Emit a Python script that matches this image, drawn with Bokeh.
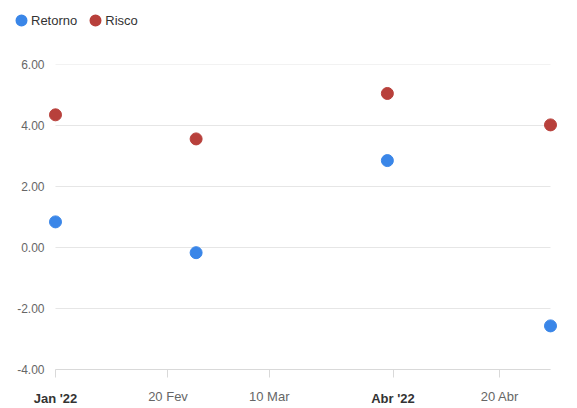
import pandas as pd
from bokeh.plotting import figure
from bokeh.layouts import column
from bokeh.models import (FixedTicker, NumeralTickFormatter, Legend, LegendItem,
                          Range1d, DatetimeAxis)
from bokeh.embed import file_html
from bokeh.resources import INLINE

# ---- data ----
dates = ["2022-01-31", "2022-02-25", "2022-03-31", "2022-04-29"]
retorno = [0.84, -0.17, 2.85, -2.57]
risco = [4.35, 3.56, 5.05, 4.02]
series_names = ["Retorno", "Risco"]
series_colors = ["#3a86e8", "#b8403b"]

x_tick_dates = ["2022-01-31", "2022-02-20", "2022-03-10", "2022-04-01", "2022-04-20"]
x_tick_labels = ["Jan '22", "20 Fev", "10 Mar", "Abr '22", "20 Abr"]
x_tick_bold = [True, False, False, True, False]
y_ticks = [-4, -2, 0, 2, 4, 6]

FONT = "Liberation Sans"
DAY = 86400000.0


def ms(d):
    return pd.Timestamp(d).value / 1e6


xs = [pd.Timestamp(d) for d in dates]
x0, x1 = ms(dates[0]), ms(dates[-1])
pad = 1.422 * DAY

# ---------------- legend strip ----------------
lg = figure(width=577, height=40, x_range=Range1d(0, 1), y_range=Range1d(0, 1),
            x_axis_location=None, y_axis_location=None,
            output_backend="svg", toolbar_location=None,
            min_border=0, min_border_left=0, min_border_right=0,
            min_border_top=0, min_border_bottom=0)
lg.outline_line_color = None
lg.xgrid.visible = False
lg.ygrid.visible = False
# legend keys: renderers whose points lie outside this strip's ranges;
# a thick outline brings the small legend key up to the chart's dot size
lr = [lg.scatter(x=[xs[0]], y=[yv[0]], size=12, fill_color=c, line_color=c,
                 line_width=4)
      for yv, c in zip([retorno, risco], series_colors)]
legend = Legend(items=[LegendItem(label=n, renderers=[r])
                       for n, r in zip(series_names, lr)],
                location=(11, 5), orientation="horizontal",
                padding=0, margin=0, spacing=8,
                glyph_width=20, glyph_height=30, label_standoff=0,
                label_text_font=FONT, label_text_font_size="13px",
                label_text_color="#333333",
                border_line_color=None, background_fill_alpha=0)
lg.add_layout(legend, "center")

# ---------------- main chart ----------------
p = figure(width=577, height=368, x_axis_type="datetime",
           x_range=Range1d(x0 - pad, x1 + pad),
           y_range=Range1d(y_ticks[0], y_ticks[-1]),
           output_backend="svg", toolbar_location=None,
           min_border_left=47, min_border_right=19,
           min_border_top=24, min_border_bottom=36)
p.outline_line_color = None
p.xgrid.visible = False
p.ygrid.visible = False

for fig in (lg, p):
    try:
        fig.frame_align = False
    except Exception:
        pass

# gridlines limited to the axis extent
p.segment(x0=[x0] * len(y_ticks), x1=[x1] * len(y_ticks),
          y0=y_ticks, y1=y_ticks, line_color="#e6e6e6", line_width=1)

for yv, c in zip([retorno, risco], series_colors):
    p.scatter(x=xs, y=yv, size=12, fill_color=c, line_color=c)

tick_ms = [ms(d) for d in x_tick_dates]

# x axis: line, ticks and regular labels
xa = p.xaxis[0]
xa.ticker = FixedTicker(ticks=tick_ms)
xa.bounds = (x0, x1)
xa.axis_line_color = "#d9d9d9"
xa.major_tick_line_color = "#d9d9d9"
xa.major_tick_out = 8
xa.major_tick_in = 0
xa.major_label_standoff = 11
xa.major_label_text_font = FONT
xa.major_label_text_font_size = "13px"
xa.major_label_text_color = "#666666"
xa.major_label_overrides = {t: ("" if b else lab)
                            for t, lab, b in zip(tick_ms, x_tick_labels, x_tick_bold)}

# second axis carrying the bold (month) labels on the same line
bold_ticks = [t for t, b in zip(tick_ms, x_tick_bold) if b]
xb = DatetimeAxis(ticker=FixedTicker(ticks=bold_ticks), bounds=(x0, x1),
                  axis_line_color=None, major_tick_line_color=None,
                  major_tick_out=0, major_tick_in=0,
                  major_label_standoff=-16,
                  major_label_text_font=FONT,
                  major_label_text_font_size="13px",
                  major_label_text_font_style="bold",
                  major_label_text_color="#333333",
                  major_label_overrides={t: lab for t, lab, b in
                                         zip(tick_ms, x_tick_labels, x_tick_bold) if b})
p.add_layout(xb, "below")

# y axis
ya = p.yaxis[0]
ya.ticker = FixedTicker(ticks=y_ticks)
ya.formatter = NumeralTickFormatter(format="0.00")
ya.axis_line_color = None
ya.major_tick_line_color = None
ya.major_tick_out = 0
ya.major_tick_in = 0
ya.major_label_standoff = 3
ya.major_label_text_font = FONT
ya.major_label_text_font_size = "12px"
ya.major_label_text_color = "#666666"
ya.major_label_text_baseline = "alphabetic"

layout = column(lg, p, spacing=0)
open("out.html", "w").write(file_html(layout, INLINE))
